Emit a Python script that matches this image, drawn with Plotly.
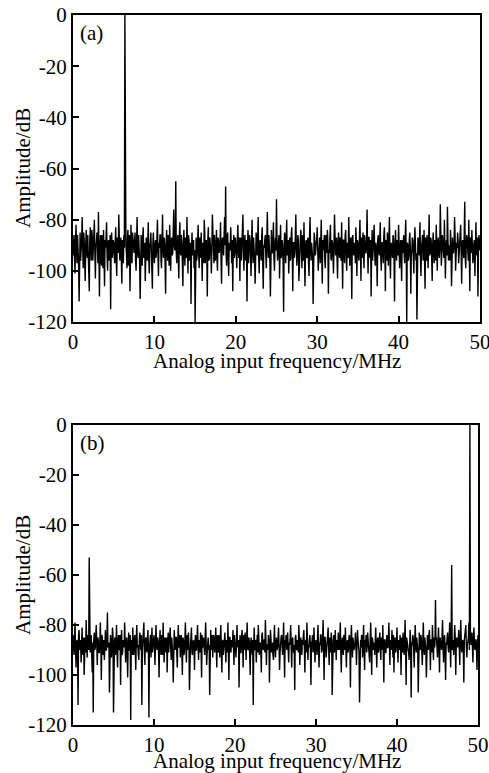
import plotly.graph_objects as go

FREQ_STEP_MHZ = 0.0625

AMP_A = [
    -94,-89,-86,-95,-101,-88,-82,-93,-97,-86,-90,-98,-112,-87,-85,-96,-93,-88,-79,-94,-99,-85,-88,-97,-104,-90,-84,-92,-95,-86,-91,-99,-108,-88,-83,-91,-96,-84,-87,-96,
    -92,-87,-80,-93,-103,-90,-89,-85,-95,-97,-77,-89,-110,-92,-86,-95,-98,-86,-90,-99,-84,-93,-106,-88,-91,-87,-81,-94,-100,-89,-88,-96,-94,-86,-115,-90,-85,-95,-93,-88,
    -89,-94,-97,-88,-83,-96,-102,-87,-90,-93,-78,-85,-96,-91,-87,-95,-105,-88,-92,-97,-86,-91,0,-88,-90,-93,-99,-87,-84,-98,-94,-86,-108,-90,-82,-95,-97,-85,-88,-92,
    -93,-88,-85,-96,-100,-89,-79,-92,-95,-86,-90,-97,-111,-90,-86,-93,-98,-87,-83,-95,-92,-89,-104,-91,-87,-94,-96,-88,-81,-96,-101,-90,-89,-85,-94,-98,-107,-89,-85,-93,
    -97,-90,-88,-95,-93,-87,-80,-94,-102,-89,-91,-86,-86,-96,-99,-88,-78,-92,-95,-87,-89,-97,-109,-90,-84,-93,-96,-86,-91,-98,-82,-91,-100,-88,-87,-94,-93,-85,-76,-90,
    -92,-88,-65,-93,-97,-90,-86,-95,-103,-87,-81,-92,-94,-86,-89,-97,-106,-89,-84,-93,-98,-87,-91,-95,-79,-90,-101,-86,-88,-96,-95,-89,-113,-91,-85,-94,-92,-88,-99,-92,
    -120,-90,-87,-96,-94,-88,-82,-93,-99,-87,-90,-95,-85,-91,-104,-89,-91,-97,-80,-86,-97,-92,-88,-94,-110,-88,-83,-96,-95,-87,-89,-93,-101,-90,-78,-85,-93,-97,-86,-89,
    -96,-91,-84,-95,-100,-87,-88,-93,-92,-89,-81,-96,-105,-88,-87,-92,-94,-86,-79,-90,-67,-94,-98,-87,-85,-95,-102,-89,-90,-92,-83,-97,-97,-88,-108,-91,-86,-95,-93,-87,
    -89,-94,-99,-88,-82,-92,-95,-87,-104,-90,-87,-96,-91,-86,-78,-93,-100,-89,-86,-95,-96,-88,-112,-91,-84,-97,-93,-86,-88,-94,-102,-89,-80,-92,-97,-87,-90,-96,-105,-90,
    -85,-92,-94,-87,-79,-95,-101,-89,-88,-93,-96,-86,-83,-97,-107,-90,-91,-88,-86,-94,-99,-87,-77,-91,-95,-86,-89,-96,-110,-89,-84,-93,-93,-88,-81,-95,-100,-90,-87,-92,
    -72,-89,-96,-93,-88,-86,-103,-91,-82,-95,-94,-88,-90,-97,-116,-90,-85,-87,-97,-92,-80,-94,-92,-88,-101,-90,-87,-96,-95,-86,-83,-93,-108,-89,-89,-95,-93,-87,-78,-91,
    -98,-93,-86,-88,-104,-95,-90,-87,-84,-92,-99,-86,-91,-96,-81,-89,-106,-91,-88,-94,-95,-88,-87,-97,-102,-86,-79,-92,-96,-89,-92,-95,-113,-90,-85,-87,-94,-93,-89,-88,
    -83,-91,-100,-94,-88,-87,-97,-92,-80,-95,-105,-88,-92,-90,-86,-96,-99,-86,-90,-93,-84,-89,-109,-92,-93,-87,-82,-95,-96,-88,-89,-94,-101,-90,-78,-86,-94,-91,-87,-95,
    -103,-89,-85,-93,-95,-87,-91,-96,-81,-90,-107,-88,-88,-94,-97,-86,-84,-92,-100,-89,-92,-95,-79,-88,-98,-91,-87,-96,-111,-87,-86,-93,-94,-89,-90,-97,-83,-90,-102,-88,
    -89,-94,-96,-88,-80,-92,-104,-87,-91,-95,-85,-90,-99,-86,-88,-93,-93,-89,-76,-91,-101,-87,-87,-94,-95,-88,-110,-92,-84,-96,-92,-87,-82,-93,-98,-89,-90,-95,-106,-88,
    -86,-92,-94,-87,-81,-95,-100,-89,-89,-93,-97,-86,-83,-91,-108,-88,-92,-96,-85,-90,-98,-87,-79,-94,-103,-89,-90,-93,-95,-86,-87,-95,-112,-90,-84,-92,-96,-88,-91,-94,
    -82,-89,-99,-93,-88,-95,-104,-88,-93,-90,-86,-94,-97,-87,-80,-92,-120,-89,-90,-96,-95,-88,-85,-91,-109,-94,-92,-87,-88,-95,-101,-90,-83,-89,-96,-93,-119,-88,-87,-92,
    -94,-88,-81,-95,-102,-90,-89,-86,-96,-93,-84,-91,-107,-87,-91,-96,-86,-92,-99,-89,-78,-94,-93,-87,-88,-95,-104,-90,-85,-92,-97,-88,-90,-96,-82,-91,-100,-89,-87,-93,
    -95,-90,-74,-86,-98,-93,-86,-89,-92,-95,-80,-87,-103,-91,-88,-94,-75,-88,-96,-92,-90,-96,-84,-89,-106,-87,-87,-93,-93,-90,-79,-86,-100,-94,-89,-91,-85,-88,-97,-92,
    -91,-87,-82,-94,-105,-89,-88,-92,-95,-86,-73,-95,-99,-90,-86,-88,-93,-96,-80,-91,-108,-87,-90,-93,-84,-89,-97,-95,-89,-88,-102,-90,-81,-93,-94,-87,-110,-92,-86,-89,
    -92,
]

AMP_B = [
    -84,-88,-92,-85,-79,-90,-97,-87,-86,-91,-112,-84,-82,-89,-90,-86,-95,-88,-81,-92,-88,-85,-100,-89,-85,-91,-78,-86,-93,-84,-87,-90,-53,-88,-91,-86,-84,-92,-99,-87,
    -115,-86,-83,-90,-89,-84,-80,-88,-96,-85,-86,-91,-91,-87,-79,-89,-102,-84,-85,-92,-88,-86,-94,-88,-82,-90,-90,-85,-75,-89,-87,-87,-107,-91,-84,-86,-93,-88,-81,-84,
    -115,-89,-86,-85,-92,-87,-80,-91,-97,-86,-84,-90,-89,-84,-104,-88,-82,-92,-91,-86,-87,-89,-79,-85,-95,-88,-85,-91,-101,-87,-83,-90,-90,-84,-118,-89,-86,-92,-81,-87,
    -92,-86,-84,-90,-98,-85,-80,-89,-88,-92,-94,-86,-83,-88,-90,-84,-112,-90,-86,-87,-79,-91,-96,-86,-85,-89,-91,-85,-82,-90,-117,-88,-87,-84,-93,-87,-81,-91,-89,-86,
    -84,-90,-96,-86,-80,-88,-90,-85,-86,-91,-101,-87,-82,-89,-92,-84,-88,-92,-79,-88,-95,-86,-85,-90,-91,-85,-99,-88,-83,-91,-87,-86,-81,-89,-94,-85,-89,-92,-103,-87,
    -82,-88,-90,-85,-85,-91,-97,-86,-80,-89,-88,-84,-93,-87,-84,-90,-100,-85,-86,-92,-91,-86,-79,-88,-95,-84,-87,-90,-83,-87,-106,-89,-89,-85,-81,-91,-92,-87,-86,-88,
    -98,-87,-84,-90,-90,-85,-80,-88,-94,-86,-87,-91,-83,-89,-101,-84,-89,-88,-85,-90,-92,-86,-79,-87,-96,-91,-86,-85,-90,-88,-108,-86,-82,-90,-88,-84,-93,-89,-84,-87,
    -91,-86,-81,-89,-97,-84,-87,-91,-84,-88,-93,-85,-80,-90,-99,-87,-86,-92,-90,-85,-83,-89,-95,-86,-88,-91,-79,-88,-102,-85,-85,-90,-91,-86,-87,-89,-82,-87,-96,-84,
    -86,-90,-93,-85,-80,-88,-89,-86,-105,-89,-84,-91,-91,-85,-82,-88,-97,-84,-87,-90,-83,-87,-94,-86,-79,-89,-90,-85,-86,-92,-100,-87,-85,-89,-92,-86,-112,-88,-81,-90,
    -89,-86,-95,-88,-84,-91,-80,-85,-92,-87,-87,-90,-99,-84,-83,-89,-90,-86,-86,-91,-78,-85,-96,-88,-88,-90,-84,-86,-103,-89,-82,-85,-91,-88,-87,-92,-94,-86,-80,-89,
    -93,-87,-85,-90,-89,-86,-81,-88,-98,-91,-86,-85,-84,-89,-92,-87,-79,-90,-101,-86,-87,-84,-90,-88,-83,-91,-95,-87,-88,-85,-80,-89,-97,-86,-85,-90,-91,-88,-106,-85,
    -84,-89,-90,-86,-87,-91,-80,-85,-96,-88,-85,-90,-92,-86,-88,-84,-82,-89,-99,-87,-86,-91,-79,-85,-94,-88,-89,-86,-84,-90,-104,-87,-87,-84,-91,-89,-81,-86,-95,-88,
    -86,-88,-92,-85,-80,-90,-97,-87,-88,-84,-84,-91,-90,-86,-78,-89,-102,-85,-85,-88,-93,-90,-87,-86,-81,-89,-96,-85,-89,-91,-83,-87,-108,-88,-86,-84,-91,-90,-82,-87,
    -94,-86,-87,-90,-83,-88,-90,-85,-79,-91,-99,-87,-85,-89,-92,-84,-88,-90,-81,-86,-97,-88,-86,-91,-90,-85,-84,-89,-105,-86,-80,-88,-93,-85,-87,-90,-89,-87,-83,-89,
    -96,-88,-82,-86,-90,-91,-111,-87,-86,-89,-84,-85,-93,-88,-80,-90,-98,-86,-87,-84,-91,-89,-83,-87,-89,-91,-95,-86,-79,-88,-100,-85,-86,-90,-88,-87,-92,-86,-81,-89,
    -97,-87,-85,-91,-90,-86,-83,-89,-94,-85,-88,-90,-80,-88,-103,-86,-86,-91,-91,-87,-84,-89,-89,-85,-79,-88,-96,-86,-87,-90,-82,-87,-93,-84,-99,-88,-85,-91,-90,-86,
    -81,-89,-95,-86,-87,-90,-84,-88,-100,-85,-89,-91,-83,-87,-92,-86,-78,-89,-104,-85,-86,-88,-90,-91,-94,-86,-82,-89,-109,-87,-88,-84,-85,-90,-97,-86,-80,-88,-91,-85,
    -87,-90,-107,-86,-83,-88,-90,-84,-85,-91,-96,-87,-79,-89,-92,-85,-88,-90,-101,-86,-84,-88,-90,-84,-82,-89,-98,-86,-86,-91,-80,-87,-94,-85,-89,-88,-70,-86,-85,-89,
    -93,-87,-81,-90,-99,-85,-86,-88,-90,-84,-78,-89,-95,-86,-84,-91,-102,-87,-88,-85,-83,-89,-91,-86,-79,-88,-97,-84,-56,-90,-87,-86,-92,-88,-80,-85,-100,-89,-85,-87,
    -89,-86,-82,-89,-96,-85,-78,-88,-91,-87,-86,-90,-103,-86,-84,-84,-80,-89,-93,-87,-87,-85,-79,-90,0,-82,-88,-86,-83,-89,-95,-85,-81,-88,-90,-86,-86,-90,-98,-87,
    -84,
]

X_TICKS = [0, 10, 20, 30, 40, 50]
X_TICK_TEXT = ["0", "10", "20", "30", "40", "50"]
Y_TICKS = [0, -20, -40, -60, -80, -100, -120]
Y_TICK_TEXT = ["0", "-20", "-40", "-60", "-80", "-100", "-120"]
PANEL_LABELS = ["(a)", "(b)"]
X_TITLE = "Analog input frequency/MHz"
Y_TITLE = "Amplitude/dB"

freq_a = [i * FREQ_STEP_MHZ for i in range(len(AMP_A))]
freq_b = [i * FREQ_STEP_MHZ for i in range(len(AMP_B))]

W, H = 489, 773
FONT = "Liberation Serif"
FS = 21

def px_x(p):
    return p / W

def px_y(p):
    return (H - p) / H

fig = go.Figure()
fig.add_trace(go.Scatter(x=freq_a, y=AMP_A, mode="lines",
                         line=dict(color="black", width=1.4), xaxis="x", yaxis="y",
                         showlegend=False))
fig.add_trace(go.Scatter(x=freq_b, y=AMP_B, mode="lines",
                         line=dict(color="black", width=1.4), xaxis="x2", yaxis="y2",
                         showlegend=False))

def xax(domain, anchor):
    return dict(domain=domain, anchor=anchor, range=[0, 50],
                tickmode="array", tickvals=X_TICKS, ticktext=X_TICK_TEXT,
                ticks="inside", ticklen=6, tickwidth=2, tickcolor="black",
                showline=True, linewidth=2, linecolor="black", mirror=True,
                showgrid=False, zeroline=False, automargin=False,
                ticklabeloverflow="allow",
                tickfont=dict(family=FONT, size=FS, color="black"))

def yax(domain, anchor):
    return dict(domain=domain, anchor=anchor, range=[-120, 0],
                tickmode="array", tickvals=Y_TICKS, ticktext=Y_TICK_TEXT,
                ticks="inside", ticklen=6, tickwidth=2, tickcolor="black",
                showline=True, linewidth=2, linecolor="black", mirror=True,
                showgrid=False, zeroline=False, automargin=False,
                ticklabeloverflow="allow",
                tickfont=dict(family=FONT, size=FS, color="black"))

fig.update_layout(
    width=W, height=H,
    margin=dict(l=0, r=0, t=0, b=0),
    paper_bgcolor="white", plot_bgcolor="white",
    xaxis=xax([px_x(73), px_x(480)], "y"),
    yaxis=yax([px_y(322), px_y(15)], "x"),
    xaxis2=xax([px_x(73), px_x(478)], "y2"),
    yaxis2=yax([px_y(725), px_y(425)], "x2"),
)

txt = dict(family=FONT, size=FS, color="black")
fig.add_annotation(text=PANEL_LABELS[0], xref="paper", yref="paper",
                   x=px_x(78), y=px_y(19), xanchor="left", yanchor="top",
                   showarrow=False, font=txt)
fig.add_annotation(text=PANEL_LABELS[1], xref="paper", yref="paper",
                   x=px_x(78), y=px_y(429), xanchor="left", yanchor="top",
                   showarrow=False, font=txt)
for xc, yc in [(277, 361), (277, 761)]:
    fig.add_annotation(text=X_TITLE, xref="paper", yref="paper",
                       x=px_x(xc), y=px_y(yc), xanchor="center", yanchor="middle",
                       showarrow=False, font=txt)
for xc, yc in [(23, 168), (23, 575)]:
    fig.add_annotation(text=Y_TITLE, xref="paper", yref="paper", textangle=-90,
                       x=px_x(xc), y=px_y(yc), xanchor="center", yanchor="middle",
                       showarrow=False, font=txt)

fig.write_html("out.html", config={"displayModeBar": False},
               post_script="document.body.style.margin='0';")
